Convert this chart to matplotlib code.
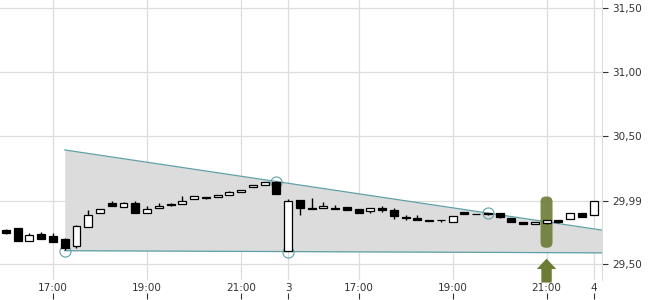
import matplotlib
matplotlib.use("Agg")
import matplotlib.pyplot as plt
from matplotlib.patches import FancyBboxPatch
import matplotlib.transforms as mtransforms
import numpy as np

# ---- data (15-minute candles) ----
opens = [29.762, 29.781, 29.680, 29.734, 29.719, 29.695, 29.641, 29.789, 29.898, 29.973,
         29.945, 29.977, 29.898, 29.938, 29.965, 29.969, 30.008, 30.019, 30.023, 30.039,
         30.063, 30.102, 30.117, 30.141, 29.602, 30.000, 29.938, 29.935, 29.938, 29.945,
         29.930, 29.914, 29.940, 29.922, 29.867, 29.862, 29.840, 29.844, 29.826, 29.904,
         29.891, 29.896, 29.896, 29.859, 29.826, 29.810, 29.823, 29.841, 29.852, 29.896,
         29.883]
closes = [29.742, 29.680, 29.727, 29.695, 29.672, 29.625, 29.797, 29.883, 29.930, 29.957,
          29.977, 29.902, 29.930, 29.957, 29.961, 29.992, 30.035, 30.022, 30.039, 30.059,
          30.082, 30.117, 30.137, 30.047, 29.992, 29.941, 29.927, 29.953, 29.927, 29.920,
          29.896, 29.935, 29.924, 29.873, 29.863, 29.846, 29.836, 29.841, 29.877, 29.893,
          29.888, 29.891, 29.870, 29.830, 29.815, 29.828, 29.841, 29.830, 29.896, 29.867,
          29.990]
highs = [29.773, 29.785, 29.742, 29.750, 29.742, 29.703, 29.805, 29.922, 29.930, 29.992,
         29.984, 29.992, 29.957, 29.977, 29.973, 30.031, 30.035, 30.023, 30.039, 30.074,
         30.082, 30.117, 30.141, 30.152, 30.008, 30.000, 30.013, 29.987, 29.961, 29.945,
         29.930, 29.935, 29.953, 29.935, 29.883, 29.883, 29.840, 29.844, 29.877, 29.904,
         29.891, 29.898, 29.896, 29.859, 29.826, 29.828, 29.841, 29.841, 29.896, 29.896,
         29.990]
lows = [29.734, 29.676, 29.680, 29.695, 29.672, 29.609, 29.627, 29.789, 29.898, 29.957,
        29.945, 29.898, 29.898, 29.938, 29.955, 29.969, 30.008, 30.004, 30.023, 30.039,
        30.063, 30.102, 30.117, 30.047, 29.602, 29.883, 29.927, 29.935, 29.927, 29.920,
        29.896, 29.896, 29.904, 29.852, 29.844, 29.846, 29.836, 29.830, 29.826, 29.888,
        29.888, 29.885, 29.859, 29.830, 29.815, 29.810, 29.815, 29.820, 29.852, 29.867,
        29.883]

x_tick_pos = [4, 12, 20, 24, 30, 38, 46, 50]
x_tick_labels = ["17:00", "19:00", "21:00", "3", "17:00", "19:00", "21:00", "4"]
y_ticks = [29.50, 29.99, 30.50, 31.00, 31.50]
y_tick_labels = ["29,50", "29,99", "30,50", "31,00", "31,50"]

# trend channel anchors (index, price)
upper_anchor = [(5, 30.391), (41, 29.898)]
lower_anchor = [(5, 29.604), (24, 29.597)]
upper_circles = [23, 41]
lower_circles = [5, 24]

signal_idx = 46
signal_range = (29.627, 30.027)
arrow_tip = 29.542

# ---- figure ----
W, H = 650, 300
fig = plt.figure(figsize=(W / 100, H / 100), dpi=100)
ax = fig.add_axes([0, 1 - 280 / H, 602 / W, 280 / H])
xmin, xmax = -0.51, 50.72
ymin, ymax = 29.375, 31.5625
ax.set_xlim(xmin, xmax)
ax.set_ylim(ymin, ymax)

grid_c = "#dddddd"
for s in ["top", "left", "bottom"]:
    ax.spines[s].set_visible(False)
ax.spines["right"].set_color(grid_c)

ax.yaxis.tick_right()
ax.set_yticks(y_ticks)
ax.set_yticklabels(y_tick_labels)
ax.set_xticks(x_tick_pos)
ax.set_xticklabels(x_tick_labels)
ax.tick_params(axis="y", length=4, width=0.8, color="#333333", pad=3.5,
               labelsize=7.5, labelcolor="#333333")
ax.tick_params(axis="x", length=0, pad=2, labelsize=7.5, labelcolor="#333333")
ax.grid(True, color=grid_c, lw=0.9)
ax.set_axisbelow(True)

# x tick marks below labels
trans = mtransforms.blended_transform_factory(ax.transData, ax.transAxes)
ax.vlines(x_tick_pos, -0.068, -0.046, transform=trans, color="#333333", lw=0.8,
          clip_on=False)

# channel
teal = "#5fa0a6"
def line_val(anchor, x):
    (x0, y0), (x1, y1) = anchor
    return y0 + (y1 - y0) * (x - x0) / (x1 - x0)

xs = np.array([upper_anchor[0][0], xmax])
up = line_val(upper_anchor, xs)
lo = line_val(lower_anchor, xs)
ax.fill_between(xs, lo, up, color="#dcdcdc", zorder=1, lw=0)
ax.plot(xs, up, color=teal, lw=0.9, zorder=2)
ax.plot(xs, lo, color=teal, lw=0.9, zorder=2)
ax.plot(upper_circles, line_val(upper_anchor, np.array(upper_circles)), "o", ms=8,
        mfc="none", mec=teal, mew=0.8, zorder=2)
ax.plot(lower_circles, line_val(lower_anchor, np.array(lower_circles)), "o", ms=8,
        mfc="none", mec=teal, mew=0.8, zorder=2)

# signal marker (behind candles)
olive = "#6b7c35"
bw = 1.02
px_x = 602 / (xmax - xmin)
px_y = 280 / (ymax - ymin)
box = FancyBboxPatch((signal_idx - bw / 2, signal_range[0]), bw,
                     signal_range[1] - signal_range[0],
                     boxstyle="round,pad=0,rounding_size=0.45",
                     mutation_aspect=px_x / px_y, fc=olive, ec="none", alpha=0.9, zorder=2.5)
ax.add_patch(box)
ax.annotate("", xy=(signal_idx, arrow_tip), xytext=(signal_idx, 29.355),
            arrowprops=dict(arrowstyle="simple,head_width=14,head_length=7.5,tail_width=7.5",
                            mutation_scale=1, fc=olive, ec="none", shrinkA=0, shrinkB=0),
            annotation_clip=False, zorder=5)

# candles
idx = np.arange(len(opens))
o = np.array(opens); c = np.array(closes)
ax.vlines(idx, lows, highs, color="black", lw=1, zorder=3)
bottoms = np.minimum(o, c)
heights = np.abs(c - o)
colors = ["white" if cc >= oo else "black" for oo, cc in zip(o, c)]
ax.bar(idx, heights, bottom=bottoms, width=0.68, color=colors, edgecolor="black",
       lw=0.9, zorder=4)

fig.savefig("out.png", dpi=100)
